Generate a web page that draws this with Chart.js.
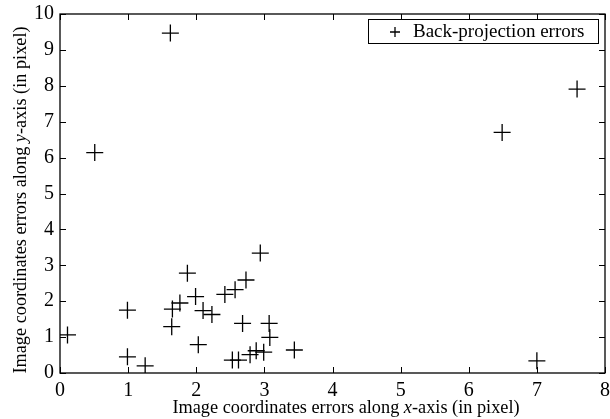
<!DOCTYPE html>
<html>
<head>
<meta charset="utf-8">
<script src="https://cdn.jsdelivr.net/npm/chart.js@4"></script>
<style>
  html, body { margin: 0; padding: 0; background: #fff; }
  #wrap { width: 610px; height: 419px; }
</style>
</head>
<body>
<div id="wrap"><canvas id="chart" width="610" height="419"></canvas></div>
<script>
// back-projection errors
const errX = [0.11, 0.99, 0.99, 1.25, 1.64, 1.65, 1.76, 1.87, 1.99, 2.03, 2.10, 2.23, 2.42, 2.57,
  2.53, 2.62, 2.73, 2.68, 2.94, 2.79, 2.88, 2.99, 3.07, 3.08, 3.44, 0.51, 1.62, 6.49, 7.00, 7.59];
const errY = [1.06, 1.75, 0.45, 0.20, 1.29, 1.78, 1.95, 2.78, 2.13, 0.79, 1.74, 1.63, 2.19, 2.32,
  0.36, 0.36, 2.59, 1.38, 3.34, 0.51, 0.62, 0.58, 1.38, 0.99, 0.64, 6.14, 9.47, 6.70, 0.34, 7.91];
const xTicks = [0, 1, 2, 3, 4, 5, 6, 7, 8];
const yTicks = [0, 1, 2, 3, 4, 5, 6, 7, 8, 9, 10];
const seriesLabel = 'Back-projection errors';

const SERIF = '"Liberation Serif", "Times New Roman", serif';

// frame + inward ticks on all four sides, like the original figure
const framePlugin = {
  id: 'frame',
  afterDraw(chart) {
    const { ctx, chartArea: a, scales } = chart;
    ctx.save();
    ctx.strokeStyle = '#000';
    ctx.lineWidth = 1.3;
    ctx.strokeRect(a.left, a.top, a.right - a.left, a.bottom - a.top);
    ctx.beginPath();
    const t = 6;
    xTicks.forEach(v => {
      const px = Math.round(scales.x.getPixelForValue(v)) + 0.5;
      ctx.moveTo(px, a.bottom); ctx.lineTo(px, a.bottom - t);
      ctx.moveTo(px, a.top); ctx.lineTo(px, a.top + t);
    });
    yTicks.forEach(v => {
      const py = Math.round(scales.y.getPixelForValue(v)) + 0.5;
      ctx.moveTo(a.left, py); ctx.lineTo(a.left + t, py);
      ctx.moveTo(a.right, py); ctx.lineTo(a.right - t, py);
    });
    ctx.lineWidth = 1;
    ctx.stroke();
    ctx.restore();
  }
};

// draws text pieces in sequence, some in italics
function drawMixed(ctx, parts, size, cx, cy) {
  const fontFor = p => (p.it ? 'italic ' : '') + size + 'px ' + SERIF;
  let total = 0;
  parts.forEach(p => { ctx.font = fontFor(p); total += ctx.measureText(p.s).width; });
  let x = cx - total / 2;
  ctx.textBaseline = 'middle';
  ctx.textAlign = 'left';
  parts.forEach(p => {
    ctx.font = fontFor(p);
    ctx.fillText(p.s, x, cy);
    x += ctx.measureText(p.s).width;
  });
}

const titlesPlugin = {
  id: 'titles',
  afterDraw(chart) {
    const { ctx } = chart;
    ctx.save();
    ctx.fillStyle = '#000';
    drawMixed(ctx, [{ s: 'Image coordinates errors along ' }, { s: 'x', it: true }, { s: '-axis (in pixel)' }],
      18.3, 346, 408);
    ctx.translate(21, 200);
    ctx.rotate(-Math.PI / 2);
    drawMixed(ctx, [{ s: 'Image coordinates errors along ' }, { s: 'y', it: true }, { s: '-axis (in pixel)' }],
      18.3, 0, 0);
    ctx.restore();
  }
};

// boxed legend in the top right corner
const legendPlugin = {
  id: 'boxLegend',
  afterDraw(chart) {
    const { ctx, chartArea: a } = chart;
    const right = a.right - 7, top = a.top + 5, w = 230, h = 24;
    ctx.save();
    ctx.fillStyle = '#fff';
    ctx.fillRect(right - w, top, w, h);
    ctx.strokeStyle = '#000';
    ctx.lineWidth = 1;
    ctx.strokeRect(right - w + 0.5, top + 0.5, w, h);
    const cx = right - w + 27, cy = top + h / 2 + 1;
    ctx.beginPath();
    ctx.moveTo(cx - 5, cy); ctx.lineTo(cx + 5, cy);
    ctx.moveTo(cx, cy - 5); ctx.lineTo(cx, cy + 5);
    ctx.lineWidth = 1.3;
    ctx.stroke();
    ctx.fillStyle = '#000';
    ctx.font = '19px ' + SERIF;
    ctx.textBaseline = 'middle';
    ctx.fillText(chart.data.datasets[0].label, cx + 18, cy);
    ctx.restore();
  }
};

const points = errX.map((x, i) => ({ x: x, y: errY[i] }));

// fixed axis sizes, no extra room for overhanging tick labels
function fixX(s) { s.height = 46; s.paddingLeft = 0; s.paddingRight = 0; }
function fixY(s) { s.width = 40; s.paddingTop = 0; s.paddingBottom = 0; }

new Chart(document.getElementById('chart'), {
  type: 'scatter',
  data: {
    datasets: [{
      label: seriesLabel,
      data: points,
      pointStyle: 'cross',
      pointRadius: 8.5,
      pointHoverRadius: 8.5,
      borderColor: '#000',
      backgroundColor: '#000',
      borderWidth: 1.3
    }]
  },
  options: {
    responsive: false,
    animation: false,
    events: [],
    layout: { autoPadding: false, padding: { left: 20, top: 14, right: 5, bottom: 0 } },
    plugins: { legend: { display: false }, tooltip: { enabled: false } },
    scales: {
      x: {
        type: 'linear', min: 0, max: 8,
        afterBuildTicks: s => { s.ticks = xTicks.map(v => ({ value: v })); },
        afterFit: fixX,
        grid: { display: false, drawTicks: false, tickLength: 0 },
        border: { display: false },
        ticks: { color: '#000', padding: 6, maxRotation: 0, font: { family: SERIF, size: 20 } }
      },
      y: {
        type: 'linear', min: 0, max: 10,
        afterBuildTicks: s => { s.ticks = yTicks.map(v => ({ value: v })); },
        afterFit: fixY,
        grid: { display: false, drawTicks: false, tickLength: 0 },
        border: { display: false },
        ticks: { color: '#000', padding: 6, font: { family: SERIF, size: 20 } }
      }
    }
  },
  plugins: [framePlugin, titlesPlugin, legendPlugin]
});
</script>
</body>
</html>
